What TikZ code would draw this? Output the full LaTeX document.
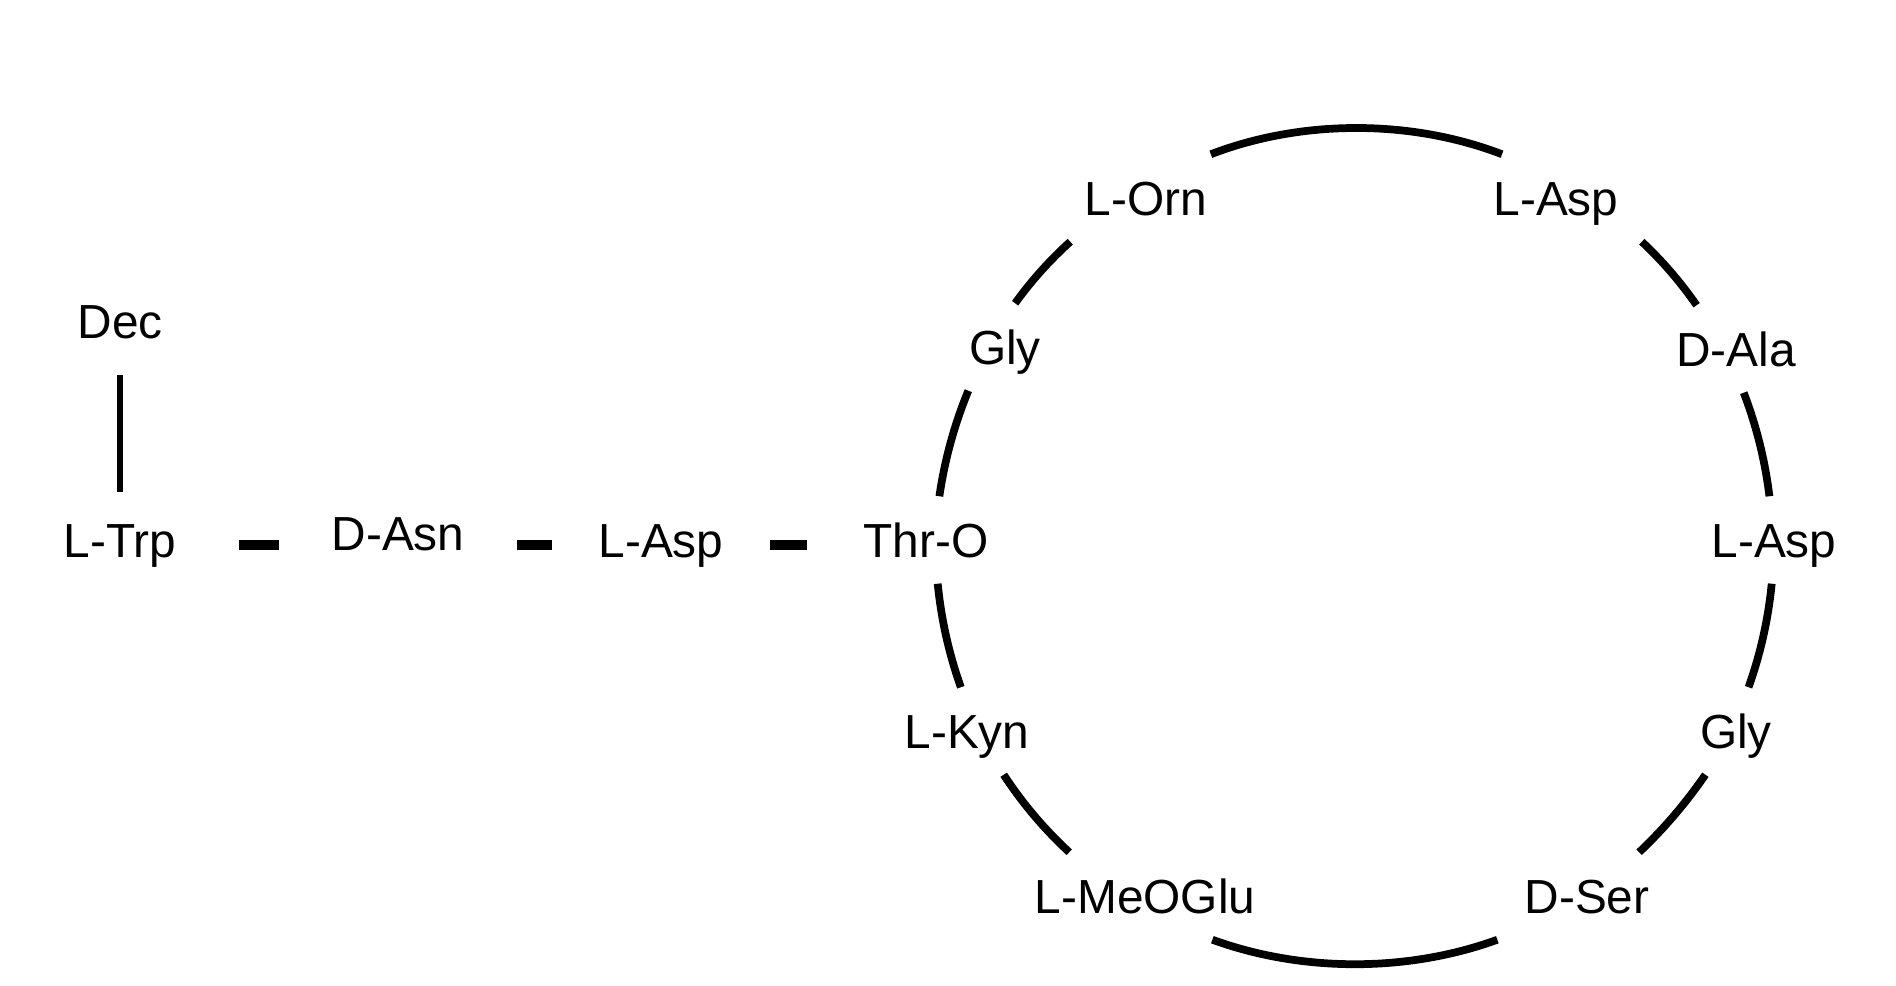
\documentclass[tikz,border=0pt]{standalone}
\usepackage{fontspec}
\setmainfont{Liberation Sans}
\usetikzlibrary{positioning}

\begin{document}
\begin{tikzpicture}[
    x=0.01cm, y=0.01cm,
    font=\fontsize{13.6}{16}\selectfont,
    res/.style={
        inner sep=0pt,
        minimum width=2.36cm,
        minimum height=0.86cm,
        text height=11pt,
        text depth=1.3pt,
        align=center
    },
    bond/.style={line width=2.2pt, looseness=0.86},
    link/.style={line width=2.6pt},
    tail/.style={line width=1.9pt}
]
\useasboundingbox (0,0) rectangle (1896,986);

% linear part
\node[res] (dec) at (120,665) {Dec};
\node[res] (trp) at (120,446) {L-Trp};
\node[res] (asn) at (398,453) {D-Asn};
\node[res, minimum width=2.16cm] (aspA) at (661,446) {L-Asp};

% ring
\node[res] (thr) at (926,446) {Thr-O};
\node[res] (glyA) at (1005,639) {Gly};
\node[res] (orn) at (1146,788) {L-Orn};
\node[res] (aspB) at (1556,788) {L-Asp};
\node[res] (ala) at (1736,637) {D-Ala};
\node[res] (aspC) at (1774,446) {L-Asp};
\node[res] (glyB) at (1736,255) {Gly};
\node[res] (ser) at (1587,90) {D-Ser};
\node[res, minimum width=3.12cm] (meo) at (1145,90) {L-MeOGlu};
\node[res] (kyn) at (967,255) {L-Kyn};

\draw[tail, shorten <=0.1cm, shorten >=0.04cm] (dec) -- (trp);
\draw[link] ([yshift=-0.05cm]trp.east) -- ([yshift=-0.05cm]trp.east -| asn.west);
\draw[link] ([yshift=-0.05cm]aspA.west -| asn.east) -- ([yshift=-0.05cm]aspA.west);
\draw[link] ([yshift=-0.05cm]aspA.east) -- ([yshift=-0.05cm]aspA.east -| thr.west);

\draw[bond] (thr.73) to[bend left=7] (glyA.230);
\draw[bond] (glyA.77) to[bend left=6] (orn.210);
\draw[bond] (orn.34) to[bend left=21] (aspB.141);
\draw[bond] (aspB.333) to[bend left=6] (ala.132);
\draw[bond] (ala.280) to[bend left=7] (aspC.96);
\draw[bond] (aspC.267) to[bend left=7] (glyB.74);
\draw[bond] (glyB.235) to[bend left=6] (ser.40);
\draw[bond] (ser.206) to[bend left=20] (meo.327);
\draw[bond] (meo.150) to[bend left=7] (kyn.310);
\draw[bond] (kyn.98) to[bend left=7] (thr.285);

\end{tikzpicture}
\end{document}
